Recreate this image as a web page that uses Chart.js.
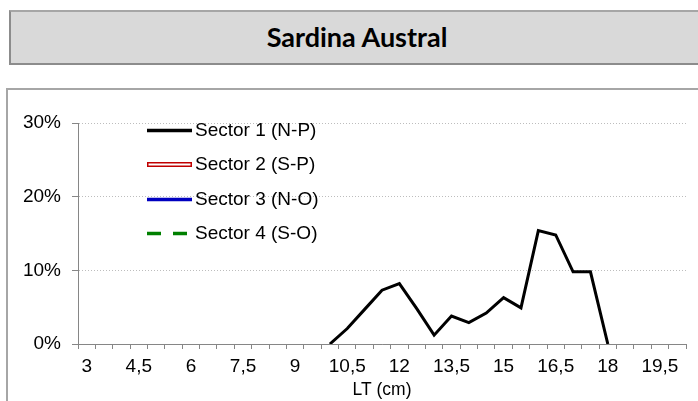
<!DOCTYPE html>
<html>
<head>
<meta charset="utf-8">
<script src="https://cdn.jsdelivr.net/npm/chart.js@4.4.0/dist/chart.umd.min.js"></script>
<style>
  html, body { margin: 0; padding: 0; background: #fff; }
  body { width: 698px; height: 401px; position: relative; overflow: hidden; }
  #titleBox {
    position: absolute; left: 9px; top: 10px; width: 692px; height: 49px;
    background: #d9d9d9; border: 2px solid #8c8c8c; border-top-color: #a6a6a6;
    display: flex; align-items: center; justify-content: center;
    font-family: Lato, sans-serif; font-weight: bold; font-size: 27px; color: #000;
    padding-bottom: 2px; box-sizing: content-box;
  }
  #chartBox {
    position: absolute; left: 6px; top: 88px; width: 700px; height: 320px;
    border: 2px solid #a6a6a6;
  }
  #chart { position: absolute; left: 0; top: 0; }
</style>
</head>
<body>
<div id="titleBox">Sardina Austral</div>
<div id="chartBox"></div>
<canvas id="chart" width="698" height="401"></canvas>
<script>
// Talla (LT, cm)
const categories = ['3', '3,5', '4', '4,5', '5', '5,5', '6', '6,5', '7', '7,5', '8', '8,5',
  '9', '9,5', '10', '10,5', '11', '11,5', '12', '12,5', '13', '13,5', '14', '14,5',
  '15', '15,5', '16', '16,5', '17', '17,5', '18', '18,5', '19', '19,5', '20'];
const shownTicks = ['3', '4,5', '6', '7,5', '9', '10,5', '12', '13,5', '15', '16,5', '18', '19,5'];
const yTicks = [0, 10, 20, 30];

// Frecuencia (%) por sector
const sector1 = [null, null, null, null, null, null, null, null, null, null, null, null,
  null, null, 0, 2.1, 4.7, 7.3, 8.2, 4.8, 1.2, 3.8, 2.9, 4.2,
  6.3, 4.9, 15.4, 14.8, 9.8, 9.8, 0, null, null, null, null];
const sector2 = [];
const sector3 = [];
const sector4 = [];

const FONT = '"Liberation Sans", Arial, sans-serif';

// leyenda dentro del area de grafico
const insideLegend = {
  id: 'insideLegend',
  afterDraw(chart) {
    const { ctx, chartArea } = chart;
    const x0 = chartArea.left + 69;
    const x1 = x0 + 45;
    ctx.save();
    ctx.font = '19px ' + FONT;
    ctx.textBaseline = 'middle';
    ctx.fillStyle = '#000';
    chart.data.datasets.forEach((ds, i) => {
      const y = Math.round(chartArea.top + 7 + i * 34.4) + 0.5;
      ctx.beginPath();
      ctx.setLineDash(ds.borderDash || []);
      ctx.strokeStyle = ds.borderColor;
      ctx.lineWidth = ds.outline ? 5 : 3.5;
      ctx.moveTo(x0, y);
      ctx.lineTo(ds.borderDash ? x1 - 4 : x1, y);
      ctx.stroke();
      if (ds.outline) {
        ctx.beginPath();
        ctx.strokeStyle = '#fff';
        ctx.lineWidth = 2;
        ctx.moveTo(x0 + 1.5, y);
        ctx.lineTo(x1 - 1.5, y);
        ctx.stroke();
      }
      ctx.setLineDash([]);
      ctx.fillText(ds.label, x1 + 3, y + 0.5);
    });
    ctx.restore();
  }
};

new Chart(document.getElementById('chart'), {
  type: 'line',
  data: {
    labels: categories,
    datasets: [
      { label: 'Sector 1 (N-P)', data: sector1, borderColor: '#000000', borderWidth: 3 },
      { label: 'Sector 2 (S-P)', data: sector2, borderColor: '#c00000', borderWidth: 3, outline: true },
      { label: 'Sector 3 (N-O)', data: sector3, borderColor: '#0000c0', borderWidth: 3 },
      { label: 'Sector 4 (S-O)', data: sector4, borderColor: '#008000', borderWidth: 3, borderDash: [14, 12] },
    ],
  },
  options: {
    responsive: false,
    animation: false,
    devicePixelRatio: 1,
    layout: { padding: { top: 123, left: 0, right: 12, bottom: 0 } },
    elements: { point: { radius: 0 }, line: { tension: 0, borderJoinStyle: 'miter' } },
    plugins: { legend: { display: false }, tooltip: { enabled: false } },
    scales: {
      x: {
        offset: true,
        grid: { offset: true, drawOnChartArea: false, drawTicks: true, tickLength: 5, color: '#868686' },
        border: { color: '#868686' },
        ticks: {
          autoSkip: false, maxRotation: 0, padding: 6, color: '#000',
          font: { family: FONT, size: 19 },
          callback(value) {
            const lbl = this.getLabelForValue(value);
            return shownTicks.includes(lbl) ? lbl : '';
          },
        },
        title: {
          display: true, text: 'LT (cm)', color: '#000', padding: { top: 0, bottom: 0 },
          font: { family: FONT, size: 17.5 },
        },
        afterFit(scale) { scale.height = 57; },
      },
      y: {
        min: 0, max: 30,
        afterBuildTicks(scale) { scale.ticks = yTicks.map(v => ({ value: v })); },
        grid: { color: '#bdbdbd', tickColor: '#868686', tickLength: 6, tickBorderDash: [1, 0] },
        border: { color: '#868686', dash: [1, 2] },
        ticks: {
          padding: 11, color: '#000',
          font: { family: FONT, size: 19 },
          callback: v => v + '%',
        },
        afterFit(scale) { scale.width = 78; },
      },
    },
  },
  plugins: [insideLegend],
});
</script>
</body>
</html>
